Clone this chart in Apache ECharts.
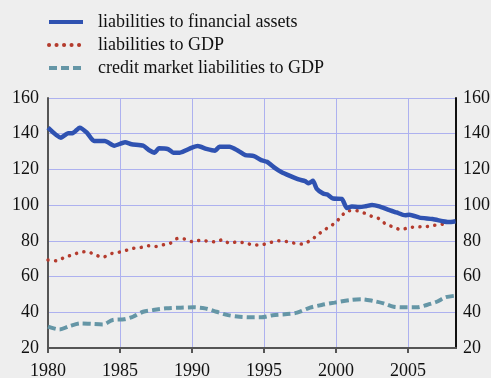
<!DOCTYPE html>
<html>
<head>
<meta charset="utf-8">
<script src="https://cdn.jsdelivr.net/npm/echarts@6/dist/echarts.min.js"></script>
<style>
  html, body { margin: 0; padding: 0; background: #eeeeee; }
  #chart { width: 491px; height: 378px; }
</style>
</head>
<body>
<div id="chart"></div>
<script>
const seriesNames = [
    'liabilities to financial assets',
    'liabilities to GDP',
    'credit market liabilities to GDP'
];

const finYears = [1980.0, 1980.9, 1981.4, 1981.7, 1982.2, 1982.7, 1983.2, 1983.95, 1984.6, 1985.35,
    1985.8, 1986.6, 1987.0, 1987.4, 1987.7, 1988.35, 1988.7, 1989.15, 1990.0, 1990.4,
    1991.0, 1991.6, 1991.9, 1992.6, 1993.2, 1993.7, 1994.3, 1994.8, 1995.2, 1995.8,
    1996.2, 1996.8, 1997.4, 1997.85, 1998.1, 1998.4, 1998.65, 1999.1, 1999.4, 1999.8,
    2000.4, 2000.75, 2001.1, 2001.6, 2002.0, 2002.5, 2003.0, 2003.6, 2004.2, 2004.8,
    2005.1, 2005.8, 2006.7, 2007.4, 2007.8, 2008.3];
const finValues = [143.4, 137.8, 140.3, 140.3, 143.4, 140.6, 135.9, 135.9, 133.3, 135.2,
    134.1, 133.3, 130.9, 129.4, 131.8, 131.3, 129.4, 129.4, 132.2, 133.1,
    131.5, 130.5, 132.7, 132.7, 130.5, 128.0, 127.5, 125.2, 124.3, 120.6,
    118.6, 116.4, 114.4, 113.4, 112.3, 113.6, 109.3, 106.5, 105.9, 103.7,
    103.5, 98.4, 99.3, 99.0, 99.3, 100.1, 99.3, 97.5, 95.9, 94.3,
    94.6, 93.0, 92.2, 91.0, 90.5, 91.0];

const gdpYears = [1980.0, 1980.6, 1981.2, 1981.7, 1982.2, 1982.7, 1983.3, 1983.8, 1984.3, 1984.8,
    1985.35, 1985.85, 1986.4, 1986.95, 1987.5, 1988.05, 1988.5, 1989.0, 1989.55, 1990.1,
    1990.6, 1991.1, 1991.7, 1992.1, 1992.6, 1993.15, 1993.75, 1994.3, 1994.9, 1995.45,
    1996.0, 1996.55, 1997.1, 1997.7, 1998.2, 1998.65, 1999.1, 1999.6, 2000.05, 2000.4,
    2000.85, 2001.4, 2001.95, 2002.5, 2003.0, 2003.45, 2004.0, 2004.5, 2005.1, 2005.6,
    2006.2, 2006.7, 2007.3, 2007.9, 2008.2];
const gdpValues = [69.3, 68.8, 71.0, 72.1, 73.6, 73.9, 72.1, 70.8, 72.7, 73.4,
    74.5, 75.7, 76.2, 77.2, 76.8, 77.9, 78.7, 81.3, 80.9, 79.4,
    80.4, 79.8, 79.4, 80.6, 78.7, 79.4, 78.7, 77.7, 77.9, 79.1,
    80.0, 79.6, 78.7, 78.2, 80.2, 82.8, 85.7, 88.1, 90.9, 94.1,
    96.9, 96.9, 95.6, 93.7, 92.4, 89.4, 87.7, 86.3, 87.5, 87.8,
    87.9, 88.6, 89.2, 90.5, 90.8];

const creditYears = [1980.0, 1980.8, 1981.5, 1982.3, 1983.0, 1983.8, 1984.5, 1985.3, 1985.9, 1986.6,
    1987.3, 1988.2, 1989.2, 1990.1, 1990.9, 1991.7, 1992.5, 1993.3, 1994.3, 1994.8,
    1995.6, 1996.6, 1997.3, 1998.2, 1999.0, 1999.9, 2001.0, 2001.8, 2002.6, 2003.3,
    2004.0, 2004.8, 2005.6, 2006.3, 2007.0, 2007.6, 2008.3];
const creditValues = [32.0, 30.4, 32.3, 33.8, 33.5, 33.2, 35.7, 36.1, 37.5, 40.3,
    41.3, 42.2, 42.6, 42.8, 42.2, 40.3, 38.4, 37.5, 37.2, 37.2,
    38.4, 39.0, 39.8, 42.6, 44.1, 45.4, 46.9, 47.3, 46.3, 45.0,
    43.1, 42.8, 42.8, 44.1, 45.9, 48.4, 49.3];

const yearTicks = [1980, 1985, 1990, 1995, 2000, 2005];

const zip = (xs, ys) => xs.map((x, i) => [x, ys[i]]);

const font = 'Liberation Serif';
const gridColor = '#adb1ef';

const chart = echarts.init(document.getElementById('chart'));

chart.setOption({
    backgroundColor: '#eeeeee',
    animation: false,
    legend: {
        orient: 'vertical',
        left: 42,
        top: 8,
        itemWidth: 34,
        itemHeight: 16,
        itemGap: 5,
        itemStyle: { opacity: 0 },
        lineStyle: { width: 4 },
        textStyle: {
            fontFamily: font,
            fontSize: 18,
            lineHeight: 16,
            color: '#111',
            padding: [0, 0, 0, 10]
        },
        data: seriesNames
    },
    grid: { left: 48, right: 35, top: 98, bottom: 30, outerBoundsMode: 'none' },
    xAxis: {
        type: 'value',
        min: 1980,
        max: 2008.33,
        interval: 5,
        axisLine: { lineStyle: { color: '#555', width: 2 } },
        axisTick: { show: true, length: 5, lineStyle: { color: '#555', width: 2 } },
        axisLabel: {
            fontFamily: font,
            fontSize: 18,
            color: '#111',
            margin: 14,
            showMaxLabel: false,
            formatter: v => (yearTicks.includes(v) ? String(v) : '')
        },
        splitLine: { show: true, lineStyle: { color: gridColor, width: 1 } }
    },
    yAxis: [
        {
            type: 'value',
            min: 20,
            max: 160,
            interval: 20,
            axisLine: { show: true, lineStyle: { color: '#555', width: 2 } },
            axisTick: { show: false },
            axisLabel: { fontFamily: font, fontSize: 18, color: '#111', margin: 9 },
            splitLine: { show: true, lineStyle: { color: gridColor, width: 1 } }
        },
        {
            type: 'value',
            position: 'right',
            min: 20,
            max: 160,
            interval: 20,
            axisLine: { show: true, lineStyle: { color: '#111', width: 2 } },
            axisTick: { show: false },
            axisLabel: { fontFamily: font, fontSize: 18, color: '#111', margin: 7 },
            splitLine: { show: false }
        }
    ],
    series: [
        {
            name: seriesNames[0],
            type: 'line',
            symbol: 'none',
            smooth: 0.2,
            data: zip(finYears, finValues),
            lineStyle: { color: '#2f52b1', width: 4.5 },
            itemStyle: { color: '#2f52b1' },
            z: 4
        },
        {
            name: seriesNames[1],
            type: 'line',
            symbol: 'none',
            smooth: 0.3,
            data: zip(gdpYears, gdpValues),
            lineStyle: { color: '#b43b2d', width: 3.5, type: [0.1, 7.4], cap: 'round' },
            itemStyle: { color: '#b43b2d' },
            z: 3
        },
        {
            name: seriesNames[2],
            type: 'line',
            symbol: 'none',
            smooth: 0.3,
            data: zip(creditYears, creditValues),
            lineStyle: { color: '#6596a6', width: 4, type: [8, 4] },
            itemStyle: { color: '#6596a6' },
            z: 3
        }
    ]
});
</script>
</body>
</html>
